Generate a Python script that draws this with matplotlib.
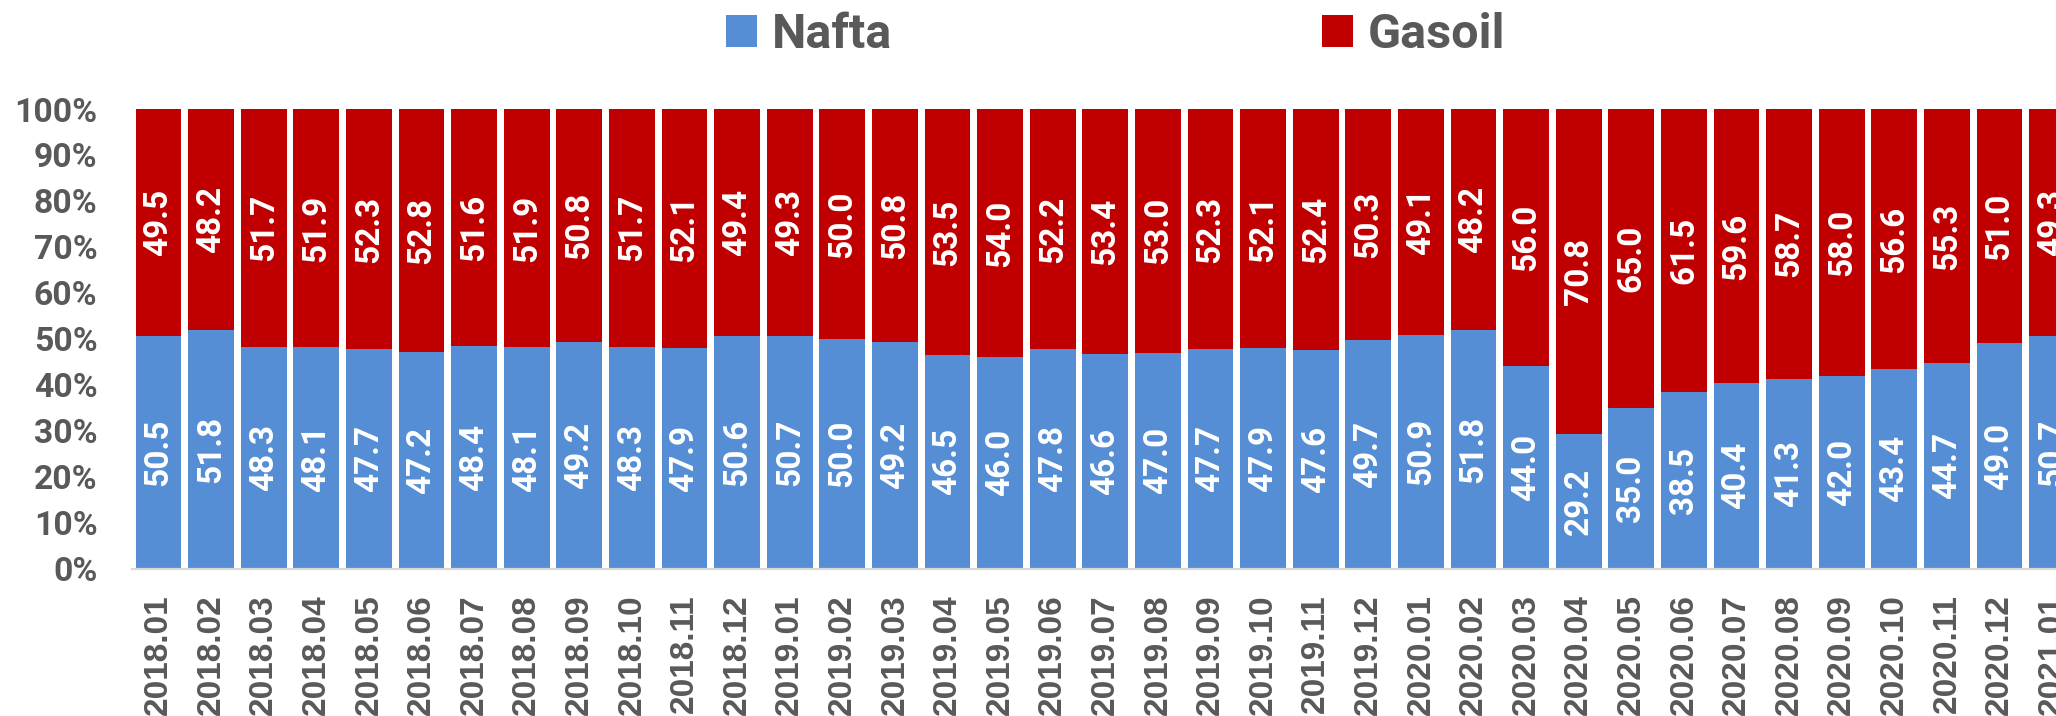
import matplotlib
matplotlib.use("Agg")
import matplotlib.pyplot as plt
from matplotlib.patches import Patch

categories = ["2018.01", "2018.02", "2018.03", "2018.04", "2018.05", "2018.06",
              "2018.07", "2018.08", "2018.09", "2018.10", "2018.11", "2018.12",
              "2019.01", "2019.02", "2019.03", "2019.04", "2019.05", "2019.06",
              "2019.07", "2019.08", "2019.09", "2019.10", "2019.11", "2019.12",
              "2020.01", "2020.02", "2020.03", "2020.04", "2020.05", "2020.06",
              "2020.07", "2020.08", "2020.09", "2020.10", "2020.11", "2020.12",
              "2021.01"]
nafta = [50.5, 51.8, 48.3, 48.1, 47.7, 47.2, 48.4, 48.1, 49.2, 48.3, 47.9, 50.6,
         50.7, 50.0, 49.2, 46.5, 46.0, 47.8, 46.6, 47.0, 47.7, 47.9, 47.6, 49.7,
         50.9, 51.8, 44.0, 29.2, 35.0, 38.5, 40.4, 41.3, 42.0, 43.4, 44.7, 49.0,
         50.7]
gasoil = [49.5, 48.2, 51.7, 51.9, 52.3, 52.8, 51.6, 51.9, 50.8, 51.7, 52.1, 49.4,
          49.3, 50.0, 50.8, 53.5, 54.0, 52.2, 53.4, 53.0, 52.3, 52.1, 52.4, 50.3,
          49.1, 48.2, 56.0, 70.8, 65.0, 61.5, 59.6, 58.7, 58.0, 56.6, 55.3, 51.0,
          49.3]
ytick_values = [0, 10, 20, 30, 40, 50, 60, 70, 80, 90, 100]
ytick_labels = [f"{v}%" for v in ytick_values]
series_names = ["Nafta", "Gasoil"]

BLUE = "#558ED5"
RED = "#C00000"
GREY = "#595959"

W, H = 2056, 716
fig = plt.figure(figsize=(W / 100, H / 100), dpi=100)
left_px, right_px = 132.2, 2056
bottom_px, top_px = 568.5, 109
ax = fig.add_axes([left_px / W, (H - bottom_px) / H,
                   (right_px - left_px) / W, (bottom_px - top_px) / H])

x = list(range(len(categories)))
bw = 0.869
b1 = ax.bar(x, nafta, width=bw, color=BLUE, linewidth=0)
b2 = ax.bar(x, gasoil, width=bw, bottom=nafta, color=RED, linewidth=0)

lblfont = dict(family="Roboto", weight="bold", size=24, color="white")
for i in x:
    ax.text(i, nafta[i] / 2, f"{nafta[i]:.1f}", rotation=90, ha="center",
            va="center", **lblfont)
    ax.text(i, nafta[i] + gasoil[i] / 2, f"{gasoil[i]:.1f}", rotation=90,
            ha="center", va="center", **lblfont)

ax.set_xlim(-0.5, (2056 - 158.5) / 52.6)
ax.set_ylim(0, 100)
ax.set_yticks(ytick_values)
ax.set_yticklabels(ytick_labels, family="Roboto", weight="bold", size=24.3,
                   color=GREY)
ax.set_xticks(x)
ax.set_xticklabels(categories, rotation=90, family="Liberation Sans",
                   weight="bold", size=24, color=GREY, va="top")
ax.tick_params(axis="y", length=0, pad=25)
ax.tick_params(axis="x", length=0, pad=18.5)
for s in ["top", "right", "left"]:
    ax.spines[s].set_visible(False)
ax.spines["bottom"].set_color("#D9D9D9")
ax.spines["bottom"].set_linewidth(1.6)

handles = [Patch(facecolor=BLUE, edgecolor="none"),
           Patch(facecolor=RED, edgecolor="none")]
fs = 35
fspx = fs / 0.72
fig.legend(handles, series_names, ncol=2, frameon=False,
           loc="center left", bbox_to_anchor=(726 / W, 1 - 35 / H),
           borderpad=0, borderaxespad=0,
           handlelength=31 / fspx, handleheight=32 / fspx,
           handletextpad=15 / fspx, columnspacing=430 / fspx,
           prop=dict(family="Roboto", weight="bold", size=fs),
           labelcolor=GREY)

fig.savefig("out.png", dpi=100)
